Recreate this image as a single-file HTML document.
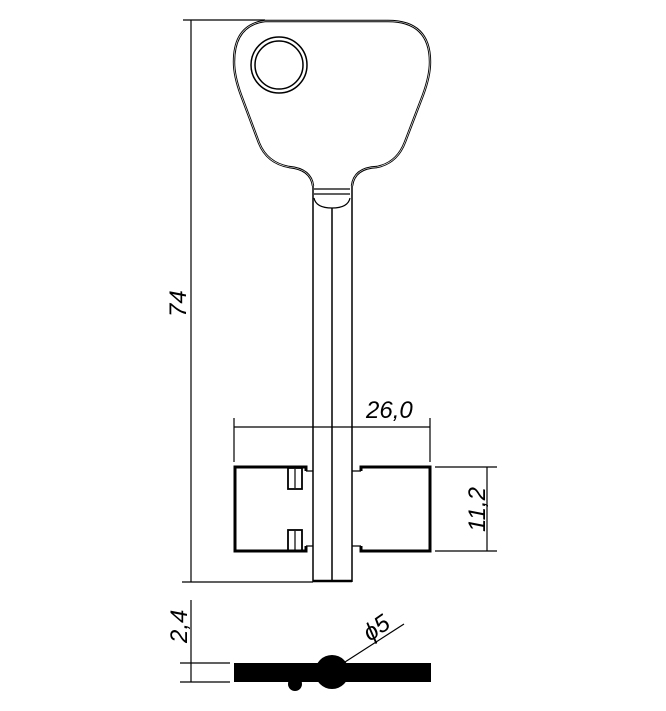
<!DOCTYPE html>
<html><head><style>body{margin:0;background:#fff}svg{display:block}</style></head><body>
<svg width="666" height="711" viewBox="0 0 666 711" xmlns="http://www.w3.org/2000/svg" font-family="Liberation Sans, sans-serif">
<g fill="none" stroke="#000" stroke-width="1.2">
<line x1="183" y1="20" x2="265" y2="20"/>
<line x1="191" y1="20" x2="191" y2="582"/>
<line x1="182" y1="582" x2="313" y2="582"/>
<path d="M265 21 L388 21 Q430 21 430 62 Q430 76 423 95 L405 142 Q397 163 377 167 Q354 168 352 186 M265 21 Q234 25 234 62 Q234 76 241 95 L259 143 Q267 163 289 167 Q311 169 313 186" stroke-width="2.4"/>
<path d="M265 21 L388 21 Q430 21 430 62 Q430 76 423 95 L405 142 Q397 163 377 167 Q354 168 352 186 M265 21 Q234 25 234 62 Q234 76 241 95 L259 143 Q267 163 289 167 Q311 169 313 186" stroke="#fff" stroke-width="0.6"/>
<circle cx="279" cy="65" r="28" stroke-width="1.5"/>
<circle cx="279" cy="65" r="24" stroke-width="1.5"/>
<path d="M314 189 L350 189 M314 194 L350 194 M314 198 Q316 208 332 208 Q348 208 350 198"/>
<line x1="313" y1="186" x2="313" y2="582" stroke-width="1.5"/>
<line x1="352" y1="186" x2="352" y2="582" stroke-width="1.5"/>
<line x1="332" y1="208" x2="332" y2="582" stroke-width="1.5"/>
<line x1="313" y1="581" x2="352" y2="581" stroke-width="2.5"/>
<path d="M306 471 L306 467 L235 467 L235 551 L306 551 L306 546" stroke-width="3"/>
<path d="M306 471 L313 471 M306 546 L313 546"/>
<path d="M361 471 L361 467 L430 467 L430 551 L361 551 L361 546" stroke-width="3"/>
<path d="M361 471 L352 471 M361 546 L352 546"/>
<rect x="288" y="468" width="14" height="21" stroke-width="1.8"/>
<line x1="295" y1="469" x2="295" y2="488"/>
<rect x="288" y="530" width="14" height="21" stroke-width="1.8"/>
<line x1="295" y1="531" x2="295" y2="550"/>
<line x1="234" y1="418" x2="234" y2="462"/>
<line x1="430" y1="418" x2="430" y2="462"/>
<line x1="234" y1="427" x2="430" y2="427"/>
<line x1="435" y1="467" x2="497" y2="467"/>
<line x1="435" y1="551" x2="497" y2="551"/>
<line x1="487" y1="467" x2="487" y2="551"/>
<line x1="191" y1="600" x2="191" y2="682"/>
<line x1="180" y1="663" x2="230" y2="663"/>
<line x1="180" y1="682" x2="230" y2="682"/>
<line x1="345" y1="662" x2="404" y2="624"/>
</g>
<rect x="234" y="663" width="197" height="19" fill="#000"/>
<circle cx="332" cy="672" r="17" fill="#000"/>
<circle cx="295" cy="684" r="7" fill="#000"/>
<g font-style="italic" font-size="24" fill="#000">
<text x="366" y="418">26,0</text>
<text transform="translate(186,317) rotate(-90)">74</text>
<text transform="translate(485,532) rotate(-90)">11,2</text>
<text transform="translate(187,643) rotate(-90)">2,4</text>
<text transform="translate(370,642) rotate(-35)">ϕ5</text>
</g>
</svg>
</body></html>
